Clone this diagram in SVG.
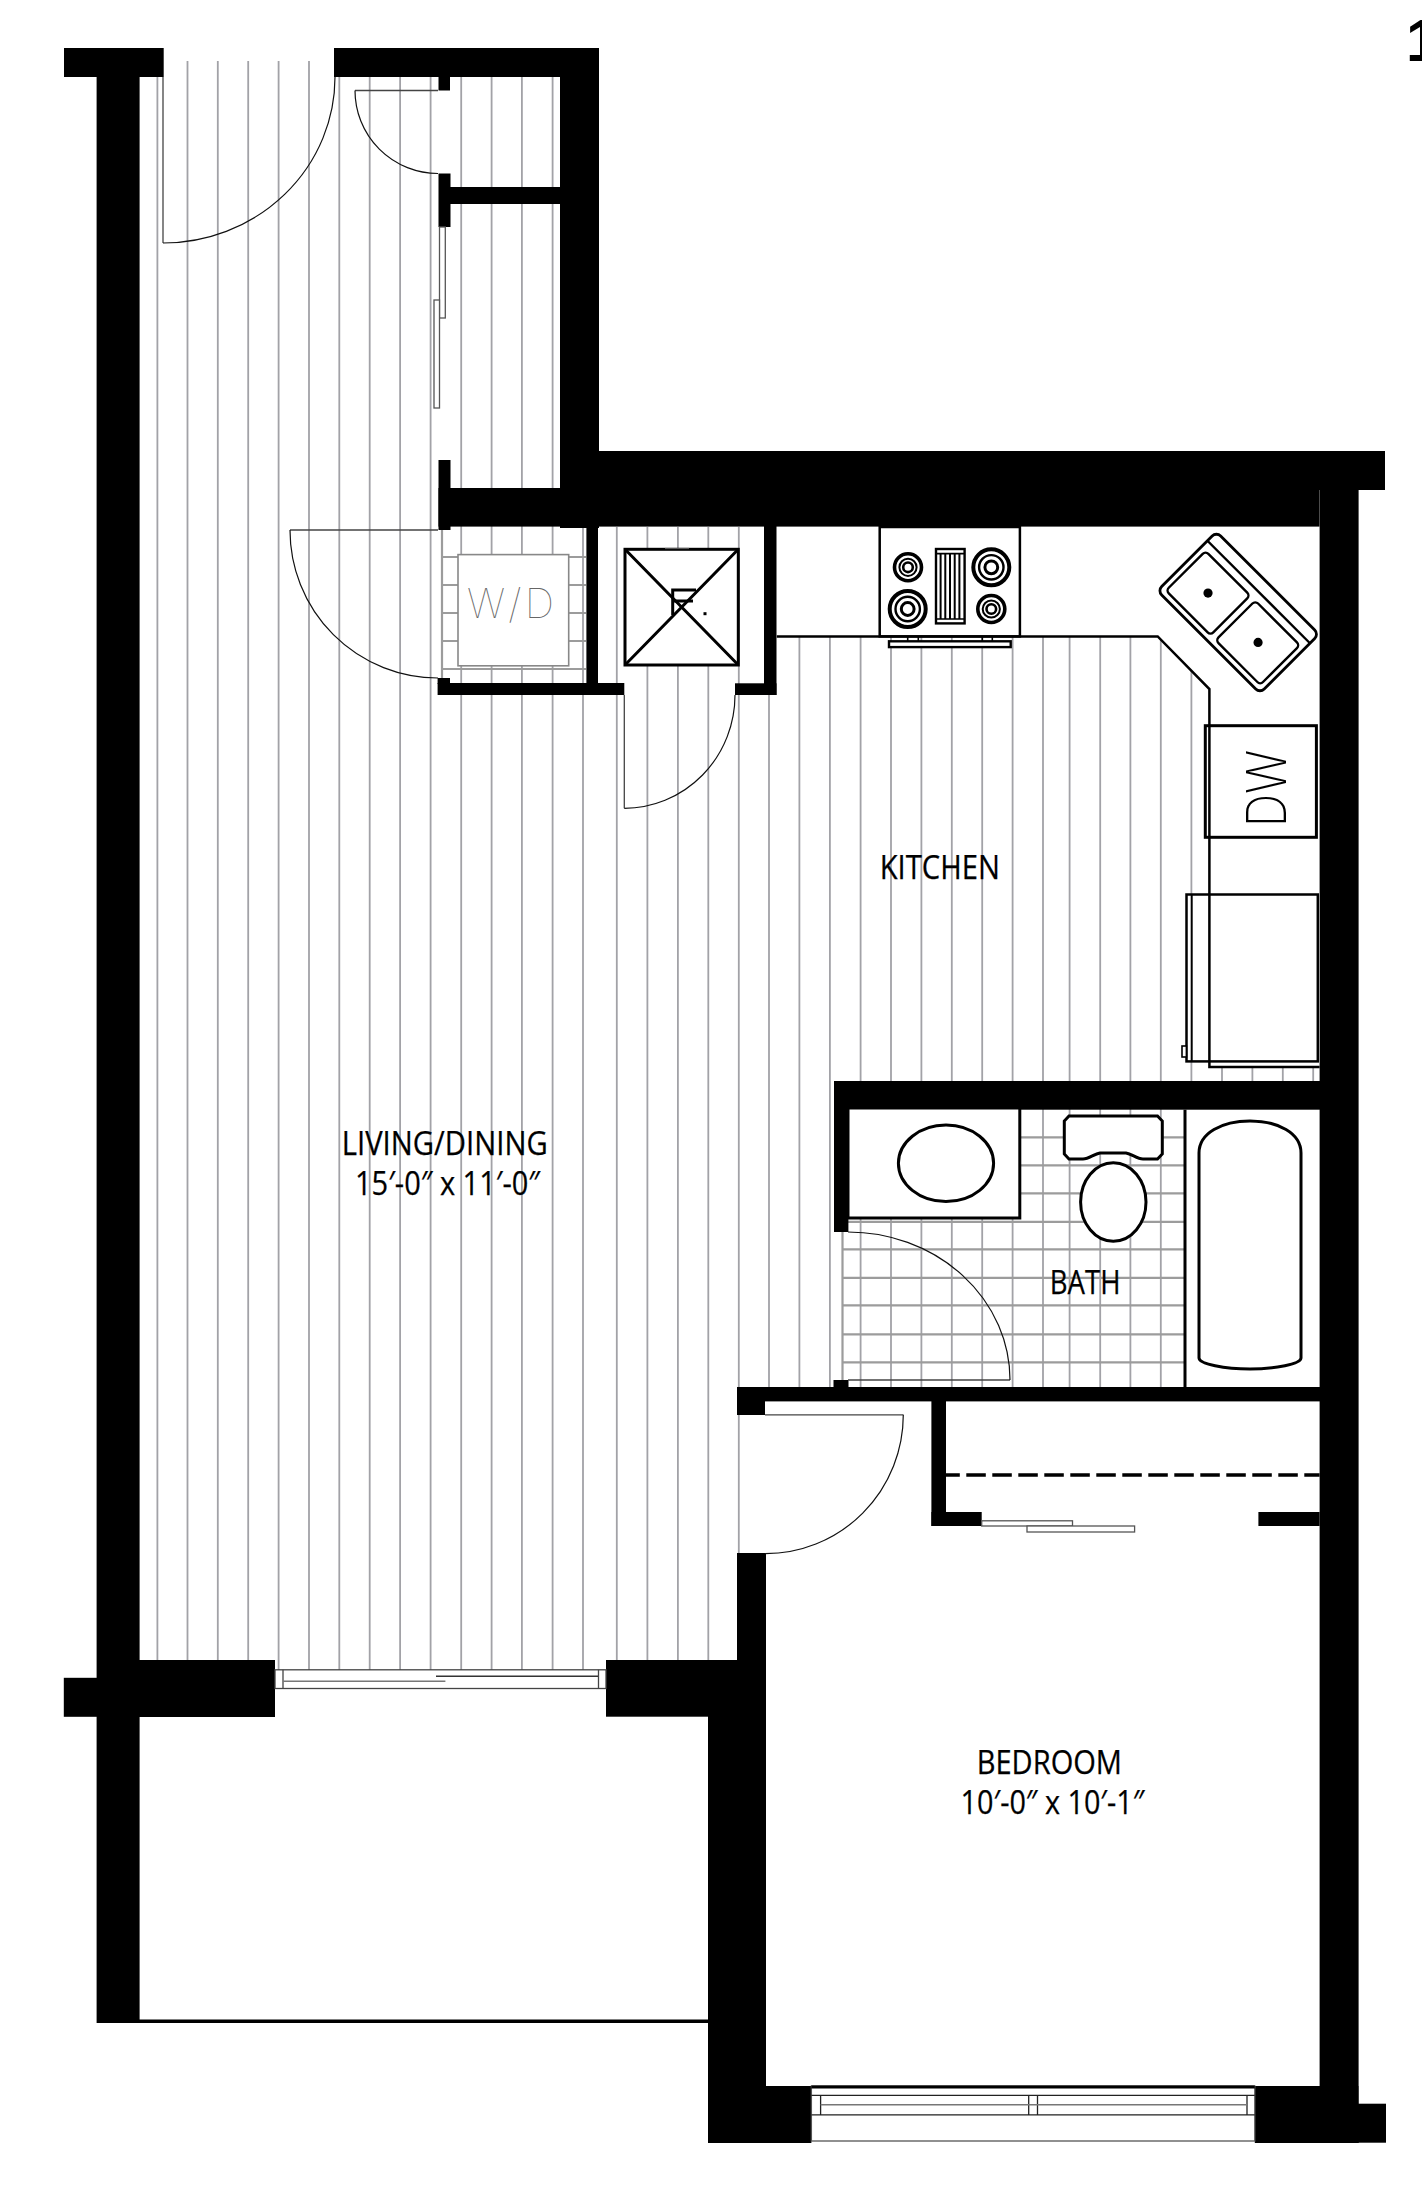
<svg xmlns="http://www.w3.org/2000/svg" width="1422" height="2198" viewBox="0 0 1422 2198">
<style>
.floor{stroke:#a2a2a7;stroke-width:1.8;fill:none}
.tile{stroke:#9c9c9c;stroke-width:2.2;fill:none}
.wall{fill:#000;stroke:none}
.fix{fill:#fff;stroke:#000;stroke-width:3}
.ln{fill:none;stroke:#000;stroke-width:2.5}
.door{fill:none;stroke:#111;stroke-width:1.2}
.leaf{fill:none;stroke:#444;stroke-width:1.3}
.slide{fill:#fff;stroke:#555;stroke-width:1.3}
.ring{fill:none;stroke:#000}
.lbl{font-family:"Open Sans","Liberation Sans",sans-serif;font-size:32px;fill:#000;stroke:#000;stroke-width:.25}
</style>
<rect width="1422" height="2198" fill="#fff"/>
<g id="flooring">
<path class="floor" d="M157.4 77V1670M187.5 61V1670M217.8 61V1670M248.2 61V1670M278.6 61V1670M309 61V1670M339.3 77V1670M369.7 77V1670M400.1 77V1670M430.6 77V1670M461.2 77V1670M491.6 77V1670M521.9 77V1670M552.6 77V1670M583 527V1670M616.8 527V1670M647.4 527V1670M677.9 527V1670M708.3 527V1670M738.8 527V1553M769 690V1387M799.4 636V1387M829.9 636V1387M860.6 636V1387M891 636V1387M921.4 636V1387M951.8 636V1387M982.2 636V1387M1012.6 636V1387M1043 636V1387M1069.6 636V1387M1100.2 636V1387M1130.4 636V1387M1160.8 636V1387M1191.4 636V1081M1222 1067V1081M1252.4 1067V1081M1282.8 1067V1081M1313.2 1067V1081"/>
</g>
<g id="tiles">
<path class="tile" d="M442 530V678M442 557H586M442 585H586M442 613H586M442 641H586M442 669H586"/>
<path class="tile" d="M842.5 1232V1380M1020 1137.3H1185M1020 1165.4H1185M1020 1193.3H1185M842.5 1221.8H1185M842.5 1249.4H1185M842.5 1277.8H1185M842.5 1305.3H1185M842.5 1334.4H1185M842.5 1362.3H1185"/>
</g>
<g id="counter">
<path d="M776.8 527H1319.6V1067H1209.4V689L1157.7 636.4H776.8Z" fill="#fff"/>
</g>
<g id="walls">
<rect class="wall" x="64" y="48" width="99.7" height="29"/>
<rect class="wall" x="96.6" y="48" width="43" height="1975"/>
<rect class="wall" x="334" y="48" width="265" height="29"/>
<rect class="wall" x="560" y="48" width="39" height="480"/>
<rect class="wall" x="599" y="451" width="786" height="39"/>
<rect class="wall" x="438.5" y="488" width="881" height="38.6"/>
<rect class="wall" x="1319.6" y="451" width="39" height="1692"/>
<rect class="wall" x="438.5" y="77" width="11.5" height="13.5"/>
<rect class="wall" x="438.5" y="173.5" width="12" height="53.5"/>
<rect class="wall" x="450" y="187" width="110" height="17"/>
<rect class="wall" x="438.5" y="460" width="12" height="70"/>
<rect class="wall" x="586.4" y="526" width="11.6" height="158"/>
<rect class="wall" x="437.6" y="683" width="186.7" height="12"/>
<rect class="wall" x="437.6" y="678" width="12.4" height="6"/>
<rect class="wall" x="764" y="526" width="12.5" height="169"/>
<rect class="wall" x="735" y="683.3" width="41.5" height="11.7"/>
<rect class="wall" x="834" y="1081" width="486" height="28.7"/>
<rect class="wall" x="834" y="1081" width="14.4" height="151"/>
<rect class="wall" x="833.5" y="1380" width="15" height="8"/>
<rect class="wall" x="737" y="1387" width="583" height="14.4"/>
<rect class="wall" x="737" y="1387" width="28" height="28"/>
<rect class="wall" x="737" y="1553" width="29" height="164"/>
<rect class="wall" x="606" y="1660" width="131" height="56.7"/>
<rect class="wall" x="708" y="1716" width="58" height="427"/>
<rect class="wall" x="708" y="2086" width="103.4" height="57"/>
<rect class="wall" x="1254.8" y="2086" width="103.6" height="57"/>
<rect class="wall" x="1358" y="2103.7" width="28" height="39"/>
<rect class="wall" x="63.8" y="1677.8" width="211" height="39"/>
<rect class="wall" x="139" y="1660" width="136" height="57"/>
<rect class="wall" x="931.4" y="1401" width="14.6" height="125"/>
<rect class="wall" x="931.4" y="1512" width="50.3" height="14"/>
<rect class="wall" x="1258.4" y="1512" width="61.2" height="14"/>
<rect class="wall" x="139" y="2019.5" width="570" height="3.5"/>
<path d="M946 1475H1319.6" fill="none" stroke="#000" stroke-width="3.6" stroke-dasharray="19.5 6.5" stroke-dashoffset="5.7"/>
</g>
<g id="doors">
<path class="leaf" d="M163 77V243"/><path class="door" d="M163 243A172 166 0 0 0 335 77"/>
<path class="leaf" d="M355 90.5H438"/><path class="door" d="M355 90.5A83 83 0 0 0 438 173.5"/>
<path class="leaf" d="M290 530H438"/><path class="door" d="M290 530A148 148 0 0 0 438 678"/>
<path class="leaf" d="M624.3 695V808.3"/><path class="door" d="M624.3 808.3A111 113 0 0 0 735 695"/>
<path class="leaf" d="M848 1380H1010"/><path class="door" d="M848 1232A162 148 0 0 1 1010 1380"/>
<path class="leaf" d="M765 1414.8H903.3"/><path class="door" d="M903.3 1414.8A138 139 0 0 1 765 1553.7"/>
</g>
<g id="closet-sliders">
<rect class="slide" x="439.5" y="227" width="5.8" height="91"/>
<rect class="slide" x="434" y="300" width="5.5" height="108"/>
<rect class="slide" x="981.7" y="1520.8" width="90.8" height="5.2"/>
<rect class="slide" x="1027" y="1526" width="107.6" height="6"/>
</g>
<g id="balcony-door">
<rect x="275" y="1669.8" width="331" height="18.7" fill="none" stroke="#444" stroke-width="1.3"/>
<path d="M283 1669.8V1688.5M598.5 1669.8V1688.5" stroke="#444" stroke-width="1.3" fill="none"/>
<path d="M436 1676.3H598" stroke="#333" stroke-width="1.5" fill="none"/>
<path d="M283 1681.2H445.4" stroke="#777" stroke-width="1.5" fill="none"/>
</g>
<g id="bedroom-window">
<rect x="811.4" y="2086" width="443.4" height="55" fill="#fff" stroke="#555" stroke-width="1.3"/>
<path d="M811.4 2087H1254.8" stroke="#000" stroke-width="3" fill="none"/>
<path d="M811.4 2095.3H1254.8M811.4 2114.9H1254.8M820.6 2095.3V2114.9M1028.7 2095.3V2114.9M1037.5 2095.3V2114.9M1247 2095.3V2114.9" stroke="#222" stroke-width="1.3" fill="none"/>
<path d="M820.6 2104.7H1247" stroke="#777" stroke-width="1.5" fill="none"/>
</g>
<g id="washer-dryer">
<rect x="458" y="554.6" width="110.7" height="111.2" fill="#fff" stroke="#888" stroke-width="1.6"/>
<text x="467" y="617.6" font-family="Inter,'Liberation Sans',sans-serif" font-size="41" font-weight="100" fill="#666" textLength="87" lengthAdjust="spacing">W/D</text>
</g>
<g id="vent-chase">
<rect x="625" y="549.3" width="113.3" height="115.7" fill="#fff" stroke="#000" stroke-width="3"/>
<path d="M625 549.3L738.3 665M738.3 549.3L625 665" stroke="#000" stroke-width="3" fill="none"/>
<path d="M672.7 615V590H696M672.7 601H693" stroke="#000" stroke-width="3" fill="none"/>
<rect x="703.5" y="612.2" width="3" height="3" fill="#000"/>
<path d="M665 548.5H689" stroke="#555" stroke-width="1.2" fill="none"/>
</g>
<g id="stove">
<rect class="ln" x="879.7" y="527" width="140.2" height="109.4" style="fill:#fff"/>
<circle class="ring" cx="908" cy="567.3" r="13.5" stroke-width="3.6"/><circle class="ring" cx="908" cy="567.3" r="8.6" stroke-width="2"/><circle class="ring" cx="908" cy="567.3" r="4.8" stroke-width="2.6"/>
<circle class="ring" cx="991.3" cy="609" r="13.5" stroke-width="3.6"/><circle class="ring" cx="991.3" cy="609" r="8.6" stroke-width="2"/><circle class="ring" cx="991.3" cy="609" r="4.8" stroke-width="2.6"/>
<circle class="ring" cx="907.7" cy="609" r="18" stroke-width="4"/><circle class="ring" cx="907.7" cy="609" r="12.2" stroke-width="2.4"/><circle class="ring" cx="907.7" cy="609" r="6.4" stroke-width="3"/>
<circle class="ring" cx="991.3" cy="567.3" r="18" stroke-width="4"/><circle class="ring" cx="991.3" cy="567.3" r="12.2" stroke-width="2.4"/><circle class="ring" cx="991.3" cy="567.3" r="6.4" stroke-width="3"/>
<rect x="936" y="549" width="28.6" height="74.4" fill="#fff" stroke="#000" stroke-width="2.4"/>
<path d="M936 553.6H964.6M936 619H964.6" stroke="#000" stroke-width="1.6" fill="none"/>
<path d="M940.6 553.6V619M945.3 553.6V619M950 553.6V619M954.7 553.6V619M959.4 553.6V619" stroke="#000" stroke-width="2" fill="none"/>
<rect x="889" y="641.3" width="121.7" height="5.8" fill="#fff" stroke="#000" stroke-width="2.4"/>
<path d="M907.7 636.4V641M918.3 636.4V641M982.3 636.4V641M992.3 636.4V641" stroke="#000" stroke-width="1.6" fill="none"/>
</g>
<g id="sink" transform="translate(1238.2 612.5) rotate(45)">
<rect x="-72.5" y="-41.7" width="145" height="83.4" rx="6" fill="#fff" stroke="#000" stroke-width="2.8"/>
<path d="M-72.5 -29H72.5" stroke="#000" stroke-width="2.4" fill="none"/>
<rect x="-66.6" y="-20.4" width="63" height="56" rx="4" fill="#fff" stroke="#000" stroke-width="2.4"/>
<rect x="3.7" y="-20.4" width="63" height="56" rx="4" fill="#fff" stroke="#000" stroke-width="2.4"/>
<circle cx="-35.1" cy="7.6" r="4.6"/>
<circle cx="35.2" cy="7.1" r="4.6"/>
</g>
<g id="fridge">
<rect x="1186.5" y="894.5" width="131.3" height="166.9" fill="#fff" stroke="#000" stroke-width="2.5"/>
<path d="M1191.7 894.5V1061.4" stroke="#000" stroke-width="2" fill="none"/>
<rect x="1182" y="1046" width="4.4" height="11" fill="#fff" stroke="#000" stroke-width="1.6"/>
</g>
<g id="dishwasher">
<rect x="1205.3" y="725.7" width="111.1" height="111.6" fill="#fff" stroke="#000" stroke-width="3"/>
<text transform="translate(1286 827) rotate(-90)" font-family="Inter,'Liberation Sans',sans-serif" font-size="55" font-weight="200" fill="#000" textLength="77" lengthAdjust="spacingAndGlyphs">DW</text>
</g>
<g id="counter-edge">
<path class="ln" d="M776.8 636.4H1157.7L1209.4 689V1067H1319.6"/>
</g>
<g id="bath-fixtures">
<rect class="fix" x="848" y="1108" width="171.8" height="110"/>
<ellipse class="fix" cx="946" cy="1163.3" rx="47.6" ry="38.3"/>
<path d="M1185 1109.7V1387" stroke="#000" stroke-width="3" fill="none"/>
<path class="fix" d="M1199 1153C1199 1133 1222 1121 1250 1121C1278 1121 1301 1133 1301 1153V1358C1301 1364 1275 1369 1250 1369C1225 1369 1199 1364 1199 1358Z"/>
<path class="fix" d="M1069 1116H1157.5L1162.3 1121V1154L1157.5 1159H1143C1137 1159 1132 1154 1126 1153H1100C1094 1154 1089 1159 1083 1159H1069L1064.3 1154V1121Z"/>
<ellipse class="fix" cx="1113.3" cy="1202" rx="32.7" ry="39.2"/>
</g>
<g id="labels">
<text class="lbl" x="341.7" y="1155" textLength="206" lengthAdjust="spacingAndGlyphs">LIVING/DINING</text>
<text class="lbl" x="355" y="1195" textLength="185" lengthAdjust="spacingAndGlyphs">15′-0″ x 11′-0″</text>
<text class="lbl" x="879.7" y="879" textLength="120.2" lengthAdjust="spacingAndGlyphs">KITCHEN</text>
<text class="lbl" x="1049.8" y="1294" textLength="70.7" lengthAdjust="spacingAndGlyphs">BATH</text>
<text class="lbl" x="976.7" y="1774" textLength="145.3" lengthAdjust="spacingAndGlyphs">BEDROOM</text>
<text class="lbl" x="960.6" y="1813.6" textLength="183.7" lengthAdjust="spacingAndGlyphs">10′-0″ x 10′-1″</text>
<text x="1406" y="61" font-family="'Liberation Sans',sans-serif" font-size="60" font-weight="700" fill="#000">1</text>
</g>
</svg>
